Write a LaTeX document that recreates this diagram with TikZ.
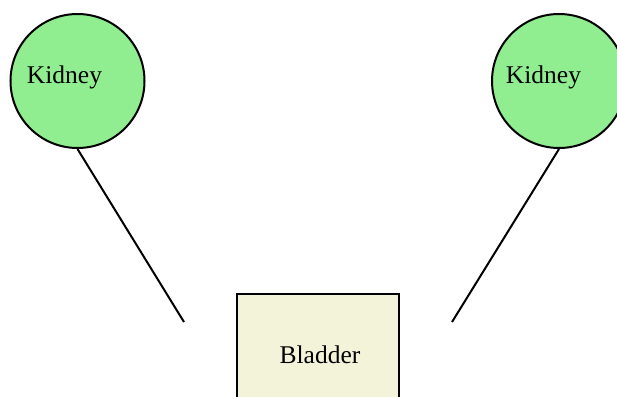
\documentclass[tikz,border=0pt]{standalone}
\usepackage{fontspec}
\setmainfont{Liberation Serif}
\begin{document}
\begin{tikzpicture}[x=1pt,y=-1pt,
  kidney/.style={circle,draw=black,line width=2pt,fill=kgreen,minimum size=134pt,inner sep=0pt},
  bladderbox/.style={rectangle,draw=black,line width=2pt,fill=bbeige,minimum width=162pt,minimum height=122pt,inner sep=0pt},
  lbl/.style={font=\fontsize{25.5}{30}\selectfont},
  tube/.style={line width=2pt,draw=black}]
\definecolor{kgreen}{HTML}{90EE90}
\definecolor{bbeige}{HTML}{F3F3DA}
\path[use as bounding box] (0,0) rectangle (617,396);
\clip (0,0) rectangle (617,396);
\node[kidney] (k1) at (77.5,81) {};
\node[kidney] (k2) at (559,81) {};
\node[lbl] (t1) at (64.5,77) {Kidney};
\node[lbl] (t2) at (543.5,77) {Kidney};
\node[bladderbox] (b) at (318,355) {};
\node[lbl] (tb) at (320,355) {Bladder};
\coordinate (e1) at (184,322);
\coordinate (e2) at (452,322);
\draw[tube] (k1.south) -- (e1);
\draw[tube] (k2.south) -- (e2);
\end{tikzpicture}
\end{document}
